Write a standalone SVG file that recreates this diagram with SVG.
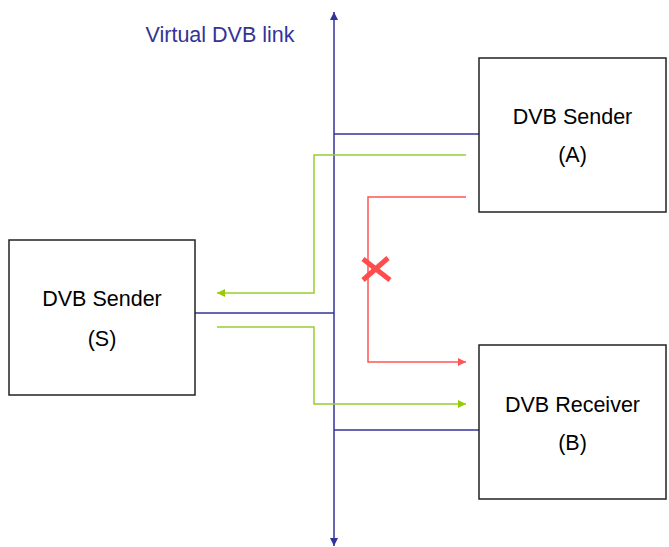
<svg xmlns="http://www.w3.org/2000/svg" width="669" height="547" viewBox="0 0 669 547">
<defs>
<style>
.box{fill:#fff;stroke:#222;stroke-width:1.5}
.t{font-family:"Liberation Sans",Arial,sans-serif;font-size:21.5px;fill:#000;text-anchor:middle}
.blue{stroke:#333399;stroke-width:1.5;fill:none}
.green{stroke:#99cc33;stroke-width:1.5;fill:none}
.red{stroke:#ff5555;stroke-width:1.5;fill:none}
</style>
<marker id="ab" viewBox="0 0 8 8" refX="8" refY="4" markerWidth="8" markerHeight="8" markerUnits="userSpaceOnUse" orient="auto"><path d="M0,0L8,4L0,8z" fill="#333399"/></marker>
<marker id="ag" viewBox="0 0 8 8" refX="8" refY="4" markerWidth="8" markerHeight="8" markerUnits="userSpaceOnUse" orient="auto"><path d="M0,0L8,4L0,8z" fill="#99cc00"/></marker>
<marker id="ar" viewBox="0 0 8 8" refX="8" refY="4" markerWidth="8" markerHeight="8" markerUnits="userSpaceOnUse" orient="auto"><path d="M0,0L8,4L0,8z" fill="#ff5555"/></marker>
</defs>
<rect width="669" height="547" fill="#fff"/>
<g id="connectors">
<line class="blue" x1="334" y1="279" x2="334" y2="12" marker-end="url(#ab)"/>
<line class="blue" x1="334" y1="279" x2="334" y2="546" marker-end="url(#ab)"/>
<line class="blue" x1="334" y1="134" x2="479" y2="134"/>
<line class="blue" x1="195" y1="313" x2="334" y2="313"/>
<line class="blue" x1="334" y1="430" x2="479" y2="430"/>
<polyline class="green" points="466,155 314,155 314,293 217,293" marker-end="url(#ag)"/>
<polyline class="green" points="217,327 314,327 314,404 466,404" marker-end="url(#ag)"/>
<polyline class="red" points="466,197 368,197 368,362 466,362" marker-end="url(#ar)"/>
<g stroke="#ff4d4d" stroke-width="5" stroke-linecap="butt">
<line x1="363" y1="259" x2="390" y2="280"/>
<line x1="363" y1="280" x2="388" y2="258"/>
</g>
</g>
<text class="t" x="220" y="42" style="fill:#333399">Virtual DVB link</text>
<g id="sender-s">
<rect class="box" x="9" y="240" width="186" height="155"/>
<text class="t" x="102" y="306">DVB Sender</text>
<text class="t" x="102" y="346">(S)</text>
</g>
<g id="sender-a">
<rect class="box" x="479" y="58" width="187" height="154"/>
<text class="t" x="572.5" y="124">DVB Sender</text>
<text class="t" x="572.5" y="162">(A)</text>
</g>
<g id="receiver-b">
<rect class="box" x="479" y="345" width="187" height="154"/>
<text class="t" x="572.5" y="412">DVB Receiver</text>
<text class="t" x="572.5" y="450">(B)</text>
</g>
</svg>
